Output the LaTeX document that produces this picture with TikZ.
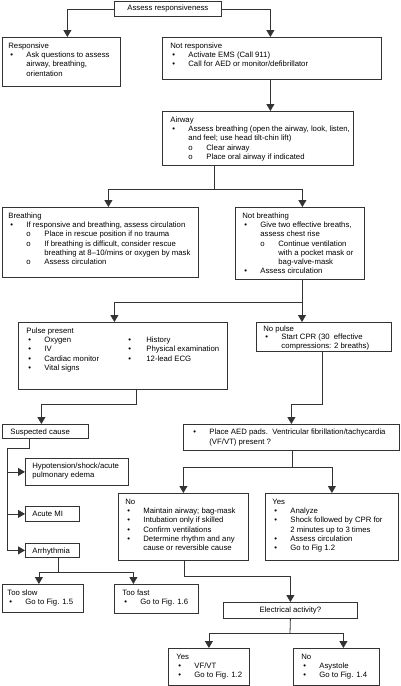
\documentclass[tikz,border=0pt]{standalone}
\usepackage{fontspec}
\setmainfont{Liberation Sans}
\usetikzlibrary{arrows.meta}
\definecolor{lc}{HTML}{333333}
\newlength\mrg
\newcommand\T[1]{\par\leftskip=\mrg\noindent#1\par}
\newcommand\B[1]{\par\leftskip=\dimexpr\mrg+18pt\relax\noindent\llap{\makebox[16pt][l]{\textbullet}}#1\par}
\newcommand\SB[1]{\par\leftskip=\dimexpr\mrg+36pt\relax\noindent\llap{\makebox[18pt][l]{o}}#1\par}
\newcommand\bx[5][11]{\makebox[#2pt][l]{\begin{minipage}[c][#3pt][t]{\dimexpr#2pt+100pt\relax}\raggedright\setlength\mrg{#4pt}\hbox{}\vskip\dimexpr#1pt-\baselineskip\relax #5\end{minipage}}}
\begin{document}
\begin{tikzpicture}[x=1pt,y=-1pt,
  box/.style={draw=lc, line width=0.8pt, inner sep=0pt, anchor=north west, font=\fontsize{7.75}{9.2}\selectfont},
  cbox/.style={box, align=center},
  wire/.style={draw=lc, line width=0.8pt},
  arr/.style={wire, -{Triangle[width=8pt,length=7pt]}}]
\useasboundingbox (0,0) rectangle (400,686);

% nodes
\node[cbox, minimum width=107pt, minimum height=15pt] (ar) at (114,1) {Assess responsiveness};
\node[box] (resp) at (2,37) {\bx{118}{49}{6}{\T{Responsive}\B{Ask questions to assess\\airway, breathing,\\orientation}}};
\node[box] (notresp) at (162,37) {\bx{219}{42}{8}{\T{Not responsive}\B{Activate EMS (Call 911)}\B{Call for AED or monitor/defibrillator}}};
\node[box] (airway) at (162,111) {\bx{191}{54}{8}{\T{Airway}\B{Assess breathing (open the airway, look, listen,\\and feel; use head tilt-chin lift)}\SB{Clear airway}\SB{Place oral airway if indicated}}};
\node[box] (breathing) at (2,207) {\bx{196}{70}{6}{\T{Breathing}\B{If responsive and breathing, assess circulation}\SB{Place in rescue position if no trauma}\SB{If breathing is difficult, consider rescue\\breathing at 8--10/mins or oxygen by mask}\SB{Assess circulation}}};
\node[box] (notbr) at (235,207) {\bx{129}{72}{7}{\T{Not breathing}\B{Give two effective breaths,\\assess chest rise}\SB{Continue ventilation\\with a pocket mask or\\bag-valve-mask}\B{Assess circulation}}};
\node[box] (pulse) at (18,322) {\bx{209}{67}{8}{\T{Pulse present}\B{\makebox[84pt][l]{Oxygen}\makebox[18pt][l]{\textbullet}History}\B{\makebox[84pt][l]{IV}\makebox[18pt][l]{\textbullet}Physical examination}\B{\makebox[84pt][l]{Cardiac monitor}\makebox[18pt][l]{\textbullet}12-lead ECG}\B{Vital signs}}};
\node[box] (nopulse) at (256,322) {\bx[9.5]{135}{29}{7}{\fontsize{7.75}{8.6}\selectfont\T{No pulse}\B{Start CPR (30\ \ effective\\compressions: 2 breaths)}}};
\node[box] (susp) at (2,424) {\bx[10.5]{86}{14}{8}{\T{Suspected cause}}};
\node[box] (hypo) at (25,458) {\bx[10]{103}{27}{7}{\T{Hypotension/shock/acute\\pulmonary edema}}};
\node[box] (ami) at (25,506) {\bx[10.5]{54}{15}{7}{\T{Acute MI}}};
\node[box] (arrh) at (25,543) {\bx[10.5]{54}{14}{7}{\T{Arrhythmia}}};
\node[box] (aed) at (183,424) {\bx[10.5]{216}{26}{8}{\B{Place AED pads.\ \ Ventricular fibrillation/tachycardia\\(VF/VT) present ?}}};
\node[box] (no) at (118,493) {\bx{130}{67}{7}{\T{No}\B{Maintain airway; bag-mask}\B{Intubation only if skilled}\B{Confirm ventilations}\B{Determine rhythm and any\\cause or reversible cause}}};
\node[box] (yes) at (265,493) {\bx{133}{67}{7}{\T{Yes}\B{Analyze}\B{Shock followed by CPR for\\2 minutes up to 3 times}\B{Assess circulation}\B{Go to Fig 1.2}}};
\node[box] (slow) at (2,584) {\bx{81}{28}{5}{\T{Too slow}\B{Go to Fig. 1.5}}};
\node[box] (fast) at (114,584) {\bx{84}{29}{8}{\T{Too fast}\B{Go to Fig. 1.6}}};
\node[cbox, minimum width=134pt, minimum height=16pt] (elec) at (223,602) {Electrical activity?};
\node[box] (eyes) at (168,648) {\bx{81}{37}{8}{\T{Yes}\B{VF/VT}\B{Go to Fig. 1.2}}};
\node[box] (eno) at (293,648) {\bx{86}{37}{8}{\T{No}\B{Asystole}\B{Go to Fig. 1.4}}};

% junctions
\coordinate (j1) at (214,189);
\coordinate (j2) at (302,302);
\coordinate (j3) at (136,404);
\coordinate (j4a) at (29,448);
\coordinate (j4) at (7,448);
\coordinate (j5) at (322,404);
\coordinate (j6) at (292,467);
\coordinate (j7) at (184,576);
\coordinate (j8) at (58,572);
\coordinate (j9) at (290,633);

% connectors
\draw[arr] (ar.west) -| ([xshift=6pt]resp.north);
\draw[arr] (ar.east) -| ([xshift=-1.5pt]notresp.north);
\draw[arr] ([xshift=-1.5pt]notresp.south) -- ([xshift=-1.5pt]notresp.south |- airway.north);
\draw[wire] (airway.south -| j1) -- (j1);
\draw[arr] (j1) -| ([xshift=8pt]breathing.north);
\draw[arr] (j1) -| ([xshift=2.5pt]notbr.north);
\draw[wire] (notbr.south -| j2) -- (j2);
\draw[arr] (j2) -| ([xshift=-8.5pt]pulse.north);
\draw[arr] (j2) -- (j2 |- nopulse.north);
\draw[arr] (pulse.south -| j3) -- (j3) -| ([xshift=-4pt]susp.north);
\draw[wire] (susp.south -| j4a) -- (j4a) -- (j4) -- (j4 |- arrh.west);
\draw[arr] (j4 |- hypo.west) -- (hypo.west);
\draw[arr] (j4 |- ami.west) -- (ami.west);
\draw[arr] (j4 |- arrh.west) -- (arrh.west);
\draw[arr] (nopulse.south -| j5) -- (j5) -| (aed.north);
\draw[wire] (aed.south -| j6) -- (j6);
\draw[arr] (j6) -| (no.north);
\draw[arr] (j6) -| (yes.north);
\draw[arr] (no.south -| j7) -- (j7) -| (elec.north);
\draw[wire] (arrh.south -| j8) -- (j8);
\draw[arr] (j8) -| ([xshift=-4pt]slow.north);
\draw[arr] (j8) -| ([xshift=-23pt]fast.north);
\draw[wire] (elec.south) -- (j9);
\draw[arr] (j9) -| (eyes.north);
\draw[arr] (j9) -| ([xshift=7pt]eno.north);
\end{tikzpicture}
\end{document}
